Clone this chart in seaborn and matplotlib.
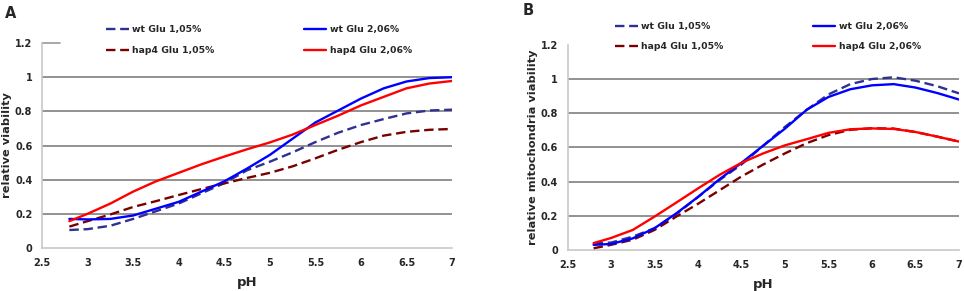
import pandas as pd
import matplotlib
matplotlib.use("Agg")
import matplotlib.pyplot as plt
import seaborn as sns

# pH values
ph = [2.8, 3.0, 3.25, 3.5, 3.75, 4.0, 4.25, 4.5, 4.75, 5.0, 5.25, 5.5, 5.75, 6.0, 6.25, 6.5, 6.75, 7.0]

# Panel A: relative viability
wt_105_a = [0.105, 0.11, 0.13, 0.17, 0.215, 0.26, 0.32, 0.38, 0.455, 0.505, 0.56, 0.62, 0.675, 0.72, 0.755, 0.788, 0.805, 0.81]
wt_206_a = [0.17, 0.167, 0.17, 0.19, 0.23, 0.27, 0.33, 0.39, 0.465, 0.545, 0.64, 0.735, 0.805, 0.875, 0.935, 0.975, 0.995, 1.0]
hap_105_a = [0.125, 0.157, 0.196, 0.24, 0.274, 0.31, 0.345, 0.378, 0.41, 0.44, 0.478, 0.525, 0.575, 0.62, 0.658, 0.68, 0.692, 0.697]
hap_206_a = [0.157, 0.20, 0.26, 0.33, 0.39, 0.44, 0.49, 0.535, 0.578, 0.618, 0.664, 0.72, 0.775, 0.835, 0.885, 0.935, 0.963, 0.978]

# Panel B: relative mitochondria viability
wt_105_b = [0.04, 0.043, 0.078, 0.127, 0.21, 0.31, 0.41, 0.50, 0.61, 0.72, 0.82, 0.91, 0.97, 1.0, 1.01, 0.99, 0.958, 0.916]
wt_206_b = [0.03, 0.035, 0.068, 0.127, 0.214, 0.31, 0.415, 0.51, 0.61, 0.71, 0.82, 0.895, 0.94, 0.963, 0.97, 0.95, 0.918, 0.88]
hap_105_b = [0.01, 0.03, 0.06, 0.117, 0.195, 0.27, 0.35, 0.43, 0.50, 0.565, 0.625, 0.672, 0.703, 0.712, 0.71, 0.69, 0.663, 0.634]
hap_206_b = [0.04, 0.07, 0.117, 0.195, 0.277, 0.36, 0.44, 0.51, 0.565, 0.612, 0.648, 0.685, 0.706, 0.711, 0.708, 0.69, 0.663, 0.634]

labels = ["wt Glu 1,05%", "hap4 Glu 1,05%", "wt Glu 2,06%", "hap4 Glu 2,06%"]
colors = ["#2E3192", "#7A0000", "#0000FF", "#FF0000"]
styles = [(0, (4, 2)), (0, (4, 2)), "-", "-"]

x_ticks = [2.5, 3, 3.5, 4, 4.5, 5, 5.5, 6, 6.5, 7]
x_tick_labels = ["2.5", "3", "3.5", "4", "4.5", "5", "5.5", "6", "6.5", "7"]
y_ticks = [0, 0.2, 0.4, 0.6, 0.8, 1.0, 1.2]
y_tick_labels = ["0", "0.2", "0.4", "0.6", "0.8", "1", "1.2"]

sns.set_style("white")
plt.rcParams["font.family"] = ["DejaVu Sans"]
plt.rcParams["font.weight"] = "bold"

fig = plt.figure(figsize=(9.64, 2.91), dpi=100)
ax_a = fig.add_axes([0.0436, 0.148, 0.4254, 0.704])
ax_b = fig.add_axes([0.5887, 0.141, 0.4061, 0.705])

panels = [
    (ax_a, [wt_105_a, hap_105_a, wt_206_a, hap_206_a], "relative viability", "A", (0.005, 0.98), (0.269, 0.862), 0.045),
    (ax_b, [wt_105_b, hap_105_b, wt_206_b, hap_206_b], "relative mitochondria viability", "B", (0.542, 0.99), (0.797, 0.874), 0.0),
]

for ax, series, ylabel, tag, tag_pos, leg_pos, top_stub in panels:
    for gy in y_ticks[1:-1]:
        ax.axhline(gy, color="#7f7f7f", lw=1.2, zorder=1)
    # the legend hides most of the top gridline in the original
    if top_stub > 0:
        ax.axhline(y_ticks[-1], xmax=top_stub, color="#9a9a9a", lw=1.2, zorder=1, clip_on=False)
    for vals, lab, col, ls in zip(series, labels, colors, styles):
        sns.lineplot(x=ph, y=vals, ax=ax, color=col, lw=1.7, label=lab, zorder=3)
        ax.lines[-1].set_linestyle(ls)
    ax.set_xlim(2.5, 7)
    ax.set_ylim(0, 1.2)
    ax.set_xticks(x_ticks)
    ax.set_xticklabels(x_tick_labels, fontsize=7, fontweight="bold")
    ax.set_yticks(y_ticks)
    ax.set_yticklabels(y_tick_labels, fontsize=7, fontweight="bold")
    ax.tick_params(axis="both", length=3, color="#c8c8c8", pad=4, direction="out")
    for side in ["top", "right"]:
        ax.spines[side].set_visible(False)
    for side in ["left", "bottom"]:
        ax.spines[side].set_color("#c8c8c8")
        ax.spines[side].set_linewidth(1.2)
        ax.spines[side].set_zorder(2)
    ax.set_xlabel("pH", fontsize=9.5, fontweight="bold", labelpad=6)
    ax.set_ylabel(ylabel, fontsize=8.2, fontweight="bold", labelpad=2)
    fig.text(tag_pos[0], tag_pos[1], tag, fontsize=10.5, fontweight="bold", va="top")
    ax.legend(loc="center", bbox_to_anchor=leg_pos, bbox_transform=fig.transFigure,
              ncol=2, fontsize=6.7, frameon=False, handlelength=2.4, handletextpad=0.4,
              columnspacing=9.6, labelspacing=1.25, borderaxespad=0)

fig.savefig("out.png", dpi=100)
